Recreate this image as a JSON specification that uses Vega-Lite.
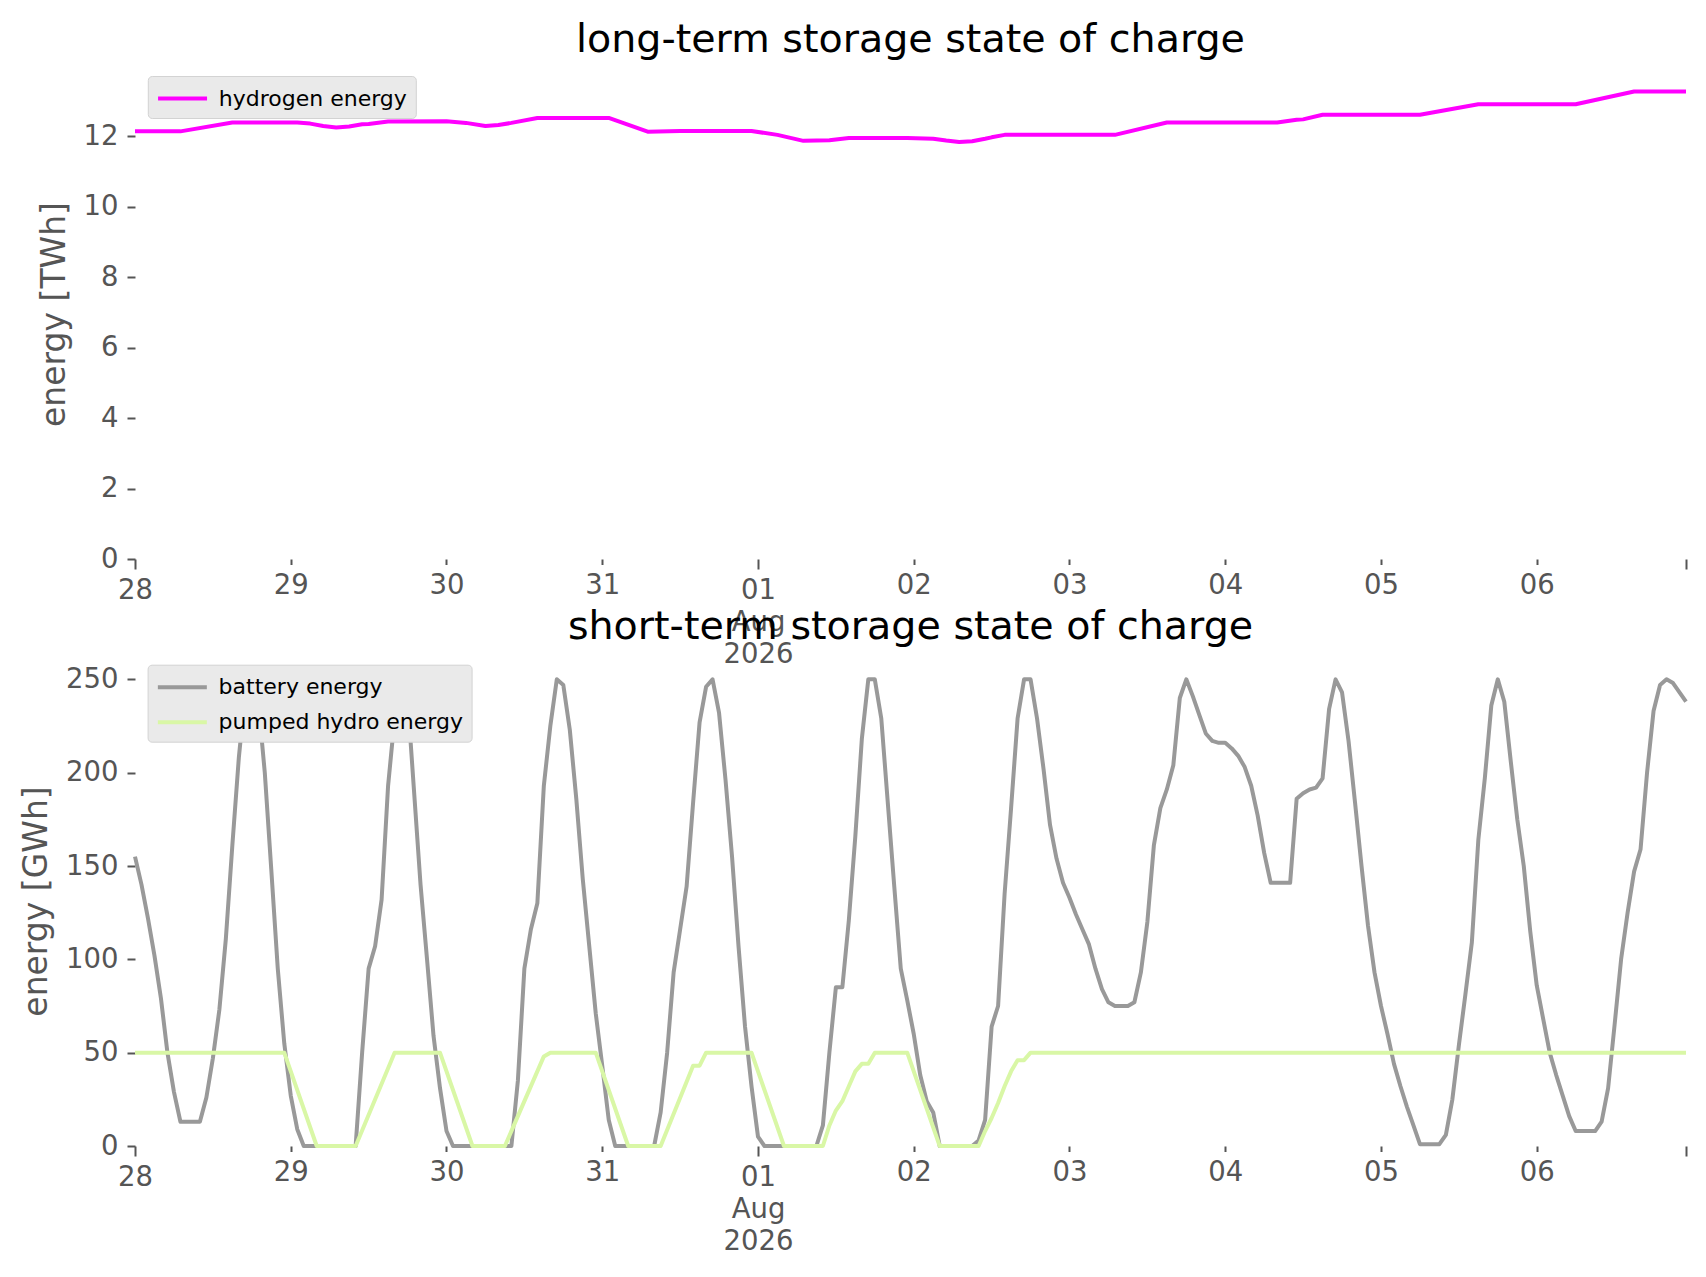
{
  "$schema": "https://vega.github.io/schema/vega-lite/v6.json",
  "background": "white",
  "padding": {"left": 20, "top": 20, "right": 10, "bottom": 10},
  "bounds": "flush",
  "spacing": 97,
  "resolve": {"scale": {"color": "independent"}, "legend": {"color": "independent"}},
  "config": {
    "font": "DejaVu Sans",
    "view": {"stroke": null},
    "axis": {
      "domain": false, "grid": false,
      "labelFont": "DejaVu Sans", "labelFontSize": 27.5, "labelColor": "#555555",
      "tickColor": "#555555", "tickWidth": 2,
      "titleFont": "DejaVu Sans", "titleFontSize": 33, "titleColor": "#555555", "titleFontWeight": "normal"
    },
    "title": {"font": "DejaVu Sans", "fontSize": 39.6, "fontWeight": "normal", "color": "black", "anchor": "middle", "frame": "group", "baseline": "alphabetic", "offset": 8.4},
    "legend": {
      "orient": "none", "title": null,
      "fillColor": "#EAEAEA", "strokeColor": "#D3D3D3", "cornerRadius": 4, "padding": 8,
      "symbolType": "M-1,0H3", "symbolSize": 600, "symbolStrokeWidth": 4,
      "labelFont": "DejaVu Sans", "labelFontSize": 22, "labelColor": "black", "labelOffset": 34, "labelLimit": 500,
      "rowPadding": 9
    }
  },
  "vconcat": [
    {
      "width": 1551, "height": 490,
      "title": "long-term storage state of charge",
      "data": {"values": [
        {"t": "2026-07-28T00:00", "s": "hydrogen energy", "v": 12.14},
        {"t": "2026-07-28T07:00", "s": "hydrogen energy", "v": 12.14},
        {"t": "2026-07-28T15:00", "s": "hydrogen energy", "v": 12.39},
        {"t": "2026-07-29T01:00", "s": "hydrogen energy", "v": 12.39},
        {"t": "2026-07-29T03:00", "s": "hydrogen energy", "v": 12.36},
        {"t": "2026-07-29T05:00", "s": "hydrogen energy", "v": 12.29},
        {"t": "2026-07-29T07:00", "s": "hydrogen energy", "v": 12.25},
        {"t": "2026-07-29T09:00", "s": "hydrogen energy", "v": 12.28},
        {"t": "2026-07-29T11:00", "s": "hydrogen energy", "v": 12.34},
        {"t": "2026-07-29T12:00", "s": "hydrogen energy", "v": 12.35},
        {"t": "2026-07-29T15:00", "s": "hydrogen energy", "v": 12.42},
        {"t": "2026-07-30T00:00", "s": "hydrogen energy", "v": 12.43},
        {"t": "2026-07-30T03:00", "s": "hydrogen energy", "v": 12.38},
        {"t": "2026-07-30T06:00", "s": "hydrogen energy", "v": 12.29},
        {"t": "2026-07-30T08:00", "s": "hydrogen energy", "v": 12.32},
        {"t": "2026-07-30T10:00", "s": "hydrogen energy", "v": 12.38},
        {"t": "2026-07-30T14:00", "s": "hydrogen energy", "v": 12.52},
        {"t": "2026-07-31T01:00", "s": "hydrogen energy", "v": 12.52},
        {"t": "2026-07-31T07:00", "s": "hydrogen energy", "v": 12.13},
        {"t": "2026-07-31T12:00", "s": "hydrogen energy", "v": 12.15},
        {"t": "2026-07-31T23:00", "s": "hydrogen energy", "v": 12.15},
        {"t": "2026-08-01T03:00", "s": "hydrogen energy", "v": 12.04},
        {"t": "2026-08-01T07:00", "s": "hydrogen energy", "v": 11.87},
        {"t": "2026-08-01T09:00", "s": "hydrogen energy", "v": 11.88},
        {"t": "2026-08-01T11:00", "s": "hydrogen energy", "v": 11.89},
        {"t": "2026-08-01T14:00", "s": "hydrogen energy", "v": 11.95},
        {"t": "2026-08-01T23:00", "s": "hydrogen energy", "v": 11.95},
        {"t": "2026-08-02T03:00", "s": "hydrogen energy", "v": 11.93},
        {"t": "2026-08-02T05:00", "s": "hydrogen energy", "v": 11.88},
        {"t": "2026-08-02T07:00", "s": "hydrogen energy", "v": 11.84},
        {"t": "2026-08-02T09:00", "s": "hydrogen energy", "v": 11.86},
        {"t": "2026-08-02T11:00", "s": "hydrogen energy", "v": 11.93},
        {"t": "2026-08-02T12:00", "s": "hydrogen energy", "v": 11.97},
        {"t": "2026-08-02T14:00", "s": "hydrogen energy", "v": 12.04},
        {"t": "2026-08-03T07:00", "s": "hydrogen energy", "v": 12.04},
        {"t": "2026-08-03T15:00", "s": "hydrogen energy", "v": 12.39},
        {"t": "2026-08-04T08:00", "s": "hydrogen energy", "v": 12.39},
        {"t": "2026-08-04T11:00", "s": "hydrogen energy", "v": 12.47},
        {"t": "2026-08-04T12:00", "s": "hydrogen energy", "v": 12.48},
        {"t": "2026-08-04T15:00", "s": "hydrogen energy", "v": 12.61},
        {"t": "2026-08-05T06:00", "s": "hydrogen energy", "v": 12.61},
        {"t": "2026-08-05T15:00", "s": "hydrogen energy", "v": 12.91},
        {"t": "2026-08-06T06:00", "s": "hydrogen energy", "v": 12.91},
        {"t": "2026-08-06T15:00", "s": "hydrogen energy", "v": 13.27},
        {"t": "2026-08-06T23:00", "s": "hydrogen energy", "v": 13.27}
      ]},
      "mark": {"type": "line", "strokeWidth": 4, "strokeJoin": "round"},
      "encoding": {
        "x": {
          "field": "t", "type": "temporal", "title": null,
          "scale": {"domain": [{"year": 2026, "month": 7, "date": 28}, {"year": 2026, "month": 8, "date": 6, "hours": 23}]},
          "axis": {
            "values": [
              {"year": 2026, "month": 7, "date": 28}, {"year": 2026, "month": 7, "date": 29}, {"year": 2026, "month": 7, "date": 30}, {"year": 2026, "month": 7, "date": 31},
              {"year": 2026, "month": 8, "date": 1}, {"year": 2026, "month": 8, "date": 2}, {"year": 2026, "month": 8, "date": 3}, {"year": 2026, "month": 8, "date": 4},
              {"year": 2026, "month": 8, "date": 5}, {"year": 2026, "month": 8, "date": 6}, {"year": 2026, "month": 8, "date": 6, "hours": 23}
            ],
            "labelExpr": "hours(datum.value) == 23 ? '' : (date(datum.value) == 1 ? [timeFormat(datum.value, '%d'), timeFormat(datum.value, '%b'), timeFormat(datum.value, '%Y')] : timeFormat(datum.value, '%d'))",
            "tickSize": {"condition": {"test": "date(datum.value) == 1 || date(datum.value) == 28 || hours(datum.value) == 23", "value": 10}, "value": 5.5},
            "labelPadding": 7, "labelOverlap": false, "labelFlush": false, "labelLineHeight": 32, "labelBaseline": "top"
          }
        },
        "y": {
          "field": "v", "type": "quantitative",
          "scale": {"domain": [0, 13.91], "nice": false, "zero": false},
          "axis": {"values": [0, 2, 4, 6, 8, 10, 12], "title": "energy [TWh]", "tickSize": 8, "labelPadding": 9, "titlePadding": 12, "labelFlush": false}
        },
        "color": {
          "field": "s", "type": "nominal",
          "scale": {"domain": ["hydrogen energy"], "range": ["#ff00ff"]},
          "legend": {"legendX": 12.8, "legendY": 7}
        }
      }
    },
    {
      "width": 1551, "height": 490,
      "title": "short-term storage state of charge",
      "data": {"values": [
        {"t":"2026-07-28T00:00","s":"battery energy","v":155},{"t":"2026-07-28T01:00","s":"battery energy","v":140},{"t":"2026-07-28T02:00","s":"battery energy","v":122},{"t":"2026-07-28T03:00","s":"battery energy","v":102},{"t":"2026-07-28T04:00","s":"battery energy","v":79},{"t":"2026-07-28T05:00","s":"battery energy","v":50},{"t":"2026-07-28T06:00","s":"battery energy","v":29},{"t":"2026-07-28T07:00","s":"battery energy","v":13},{"t":"2026-07-28T08:00","s":"battery energy","v":13},{"t":"2026-07-28T09:00","s":"battery energy","v":13},{"t":"2026-07-28T10:00","s":"battery energy","v":13},{"t":"2026-07-28T11:00","s":"battery energy","v":26},{"t":"2026-07-28T12:00","s":"battery energy","v":47},{"t":"2026-07-28T13:00","s":"battery energy","v":73},{"t":"2026-07-28T14:00","s":"battery energy","v":111},{"t":"2026-07-28T15:00","s":"battery energy","v":161},{"t":"2026-07-28T16:00","s":"battery energy","v":208},{"t":"2026-07-28T17:00","s":"battery energy","v":243},{"t":"2026-07-28T18:00","s":"battery energy","v":250},{"t":"2026-07-28T19:00","s":"battery energy","v":238},{"t":"2026-07-28T20:00","s":"battery energy","v":200},{"t":"2026-07-28T21:00","s":"battery energy","v":148},{"t":"2026-07-28T22:00","s":"battery energy","v":95},{"t":"2026-07-28T23:00","s":"battery energy","v":55},
        {"t":"2026-07-29T00:00","s":"battery energy","v":27},{"t":"2026-07-29T01:00","s":"battery energy","v":9},{"t":"2026-07-29T02:00","s":"battery energy","v":0},{"t":"2026-07-29T03:00","s":"battery energy","v":0},{"t":"2026-07-29T04:00","s":"battery energy","v":0},{"t":"2026-07-29T05:00","s":"battery energy","v":0},{"t":"2026-07-29T06:00","s":"battery energy","v":0},{"t":"2026-07-29T07:00","s":"battery energy","v":0},{"t":"2026-07-29T08:00","s":"battery energy","v":0},{"t":"2026-07-29T09:00","s":"battery energy","v":0},{"t":"2026-07-29T10:00","s":"battery energy","v":0},{"t":"2026-07-29T11:00","s":"battery energy","v":50},{"t":"2026-07-29T12:00","s":"battery energy","v":95},{"t":"2026-07-29T13:00","s":"battery energy","v":107},{"t":"2026-07-29T14:00","s":"battery energy","v":132},{"t":"2026-07-29T15:00","s":"battery energy","v":193},{"t":"2026-07-29T16:00","s":"battery energy","v":229},{"t":"2026-07-29T17:00","s":"battery energy","v":250},{"t":"2026-07-29T18:00","s":"battery energy","v":240},{"t":"2026-07-29T19:00","s":"battery energy","v":190},{"t":"2026-07-29T20:00","s":"battery energy","v":140},{"t":"2026-07-29T21:00","s":"battery energy","v":100},{"t":"2026-07-29T22:00","s":"battery energy","v":59},{"t":"2026-07-29T23:00","s":"battery energy","v":31},
        {"t":"2026-07-30T00:00","s":"battery energy","v":8},{"t":"2026-07-30T01:00","s":"battery energy","v":0},{"t":"2026-07-30T02:00","s":"battery energy","v":0},{"t":"2026-07-30T03:00","s":"battery energy","v":0},{"t":"2026-07-30T04:00","s":"battery energy","v":0},{"t":"2026-07-30T05:00","s":"battery energy","v":0},{"t":"2026-07-30T06:00","s":"battery energy","v":0},{"t":"2026-07-30T07:00","s":"battery energy","v":0},{"t":"2026-07-30T08:00","s":"battery energy","v":0},{"t":"2026-07-30T09:00","s":"battery energy","v":0},{"t":"2026-07-30T10:00","s":"battery energy","v":0},{"t":"2026-07-30T11:00","s":"battery energy","v":35},{"t":"2026-07-30T12:00","s":"battery energy","v":95},{"t":"2026-07-30T13:00","s":"battery energy","v":116},{"t":"2026-07-30T14:00","s":"battery energy","v":130},{"t":"2026-07-30T15:00","s":"battery energy","v":193},{"t":"2026-07-30T16:00","s":"battery energy","v":225},{"t":"2026-07-30T17:00","s":"battery energy","v":250},{"t":"2026-07-30T18:00","s":"battery energy","v":247},{"t":"2026-07-30T19:00","s":"battery energy","v":223},{"t":"2026-07-30T20:00","s":"battery energy","v":186},{"t":"2026-07-30T21:00","s":"battery energy","v":143},{"t":"2026-07-30T22:00","s":"battery energy","v":107},{"t":"2026-07-30T23:00","s":"battery energy","v":71},
        {"t":"2026-07-31T00:00","s":"battery energy","v":43},{"t":"2026-07-31T01:00","s":"battery energy","v":14},{"t":"2026-07-31T02:00","s":"battery energy","v":0},{"t":"2026-07-31T03:00","s":"battery energy","v":0},{"t":"2026-07-31T04:00","s":"battery energy","v":0},{"t":"2026-07-31T05:00","s":"battery energy","v":0},{"t":"2026-07-31T06:00","s":"battery energy","v":0},{"t":"2026-07-31T07:00","s":"battery energy","v":0},{"t":"2026-07-31T08:00","s":"battery energy","v":0},{"t":"2026-07-31T09:00","s":"battery energy","v":18},{"t":"2026-07-31T10:00","s":"battery energy","v":50},{"t":"2026-07-31T11:00","s":"battery energy","v":93},{"t":"2026-07-31T12:00","s":"battery energy","v":116},{"t":"2026-07-31T13:00","s":"battery energy","v":139},{"t":"2026-07-31T14:00","s":"battery energy","v":184},{"t":"2026-07-31T15:00","s":"battery energy","v":227},{"t":"2026-07-31T16:00","s":"battery energy","v":246},{"t":"2026-07-31T17:00","s":"battery energy","v":250},{"t":"2026-07-31T18:00","s":"battery energy","v":232},{"t":"2026-07-31T19:00","s":"battery energy","v":196},{"t":"2026-07-31T20:00","s":"battery energy","v":155},{"t":"2026-07-31T21:00","s":"battery energy","v":107},{"t":"2026-07-31T22:00","s":"battery energy","v":64},{"t":"2026-07-31T23:00","s":"battery energy","v":32},
        {"t":"2026-08-01T00:00","s":"battery energy","v":5},{"t":"2026-08-01T01:00","s":"battery energy","v":0},{"t":"2026-08-01T02:00","s":"battery energy","v":0},{"t":"2026-08-01T03:00","s":"battery energy","v":0},{"t":"2026-08-01T04:00","s":"battery energy","v":0},{"t":"2026-08-01T05:00","s":"battery energy","v":0},{"t":"2026-08-01T06:00","s":"battery energy","v":0},{"t":"2026-08-01T07:00","s":"battery energy","v":0},{"t":"2026-08-01T08:00","s":"battery energy","v":0},{"t":"2026-08-01T09:00","s":"battery energy","v":0},{"t":"2026-08-01T10:00","s":"battery energy","v":11},{"t":"2026-08-01T11:00","s":"battery energy","v":50},{"t":"2026-08-01T12:00","s":"battery energy","v":85},{"t":"2026-08-01T13:00","s":"battery energy","v":85},{"t":"2026-08-01T14:00","s":"battery energy","v":121},{"t":"2026-08-01T15:00","s":"battery energy","v":166},{"t":"2026-08-01T16:00","s":"battery energy","v":218},{"t":"2026-08-01T17:00","s":"battery energy","v":250},{"t":"2026-08-01T18:00","s":"battery energy","v":250},{"t":"2026-08-01T19:00","s":"battery energy","v":229},{"t":"2026-08-01T20:00","s":"battery energy","v":184},{"t":"2026-08-01T21:00","s":"battery energy","v":139},{"t":"2026-08-01T22:00","s":"battery energy","v":95},{"t":"2026-08-01T23:00","s":"battery energy","v":78},
        {"t":"2026-08-02T00:00","s":"battery energy","v":60},{"t":"2026-08-02T01:00","s":"battery energy","v":38},{"t":"2026-08-02T02:00","s":"battery energy","v":24},{"t":"2026-08-02T03:00","s":"battery energy","v":18},{"t":"2026-08-02T04:00","s":"battery energy","v":0},{"t":"2026-08-02T05:00","s":"battery energy","v":0},{"t":"2026-08-02T06:00","s":"battery energy","v":0},{"t":"2026-08-02T07:00","s":"battery energy","v":0},{"t":"2026-08-02T08:00","s":"battery energy","v":0},{"t":"2026-08-02T09:00","s":"battery energy","v":0},{"t":"2026-08-02T10:00","s":"battery energy","v":3},{"t":"2026-08-02T11:00","s":"battery energy","v":14},{"t":"2026-08-02T12:00","s":"battery energy","v":64},{"t":"2026-08-02T13:00","s":"battery energy","v":75},{"t":"2026-08-02T14:00","s":"battery energy","v":135},{"t":"2026-08-02T15:00","s":"battery energy","v":181},{"t":"2026-08-02T16:00","s":"battery energy","v":229},{"t":"2026-08-02T17:00","s":"battery energy","v":250},{"t":"2026-08-02T18:00","s":"battery energy","v":250},{"t":"2026-08-02T19:00","s":"battery energy","v":229},{"t":"2026-08-02T20:00","s":"battery energy","v":202},{"t":"2026-08-02T21:00","s":"battery energy","v":172},{"t":"2026-08-02T22:00","s":"battery energy","v":154},{"t":"2026-08-02T23:00","s":"battery energy","v":141},
        {"t":"2026-08-03T00:00","s":"battery energy","v":133},{"t":"2026-08-03T01:00","s":"battery energy","v":124},{"t":"2026-08-03T02:00","s":"battery energy","v":116},{"t":"2026-08-03T03:00","s":"battery energy","v":108},{"t":"2026-08-03T04:00","s":"battery energy","v":95},{"t":"2026-08-03T05:00","s":"battery energy","v":84},{"t":"2026-08-03T06:00","s":"battery energy","v":77},{"t":"2026-08-03T07:00","s":"battery energy","v":75},{"t":"2026-08-03T08:00","s":"battery energy","v":75},{"t":"2026-08-03T09:00","s":"battery energy","v":75},{"t":"2026-08-03T10:00","s":"battery energy","v":77},{"t":"2026-08-03T11:00","s":"battery energy","v":93},{"t":"2026-08-03T12:00","s":"battery energy","v":120},{"t":"2026-08-03T13:00","s":"battery energy","v":161},{"t":"2026-08-03T14:00","s":"battery energy","v":181},{"t":"2026-08-03T15:00","s":"battery energy","v":191},{"t":"2026-08-03T16:00","s":"battery energy","v":204},{"t":"2026-08-03T17:00","s":"battery energy","v":240},{"t":"2026-08-03T18:00","s":"battery energy","v":250},{"t":"2026-08-03T19:00","s":"battery energy","v":241},{"t":"2026-08-03T20:00","s":"battery energy","v":231},{"t":"2026-08-03T21:00","s":"battery energy","v":221},{"t":"2026-08-03T22:00","s":"battery energy","v":217},{"t":"2026-08-03T23:00","s":"battery energy","v":216},
        {"t":"2026-08-04T00:00","s":"battery energy","v":216},{"t":"2026-08-04T01:00","s":"battery energy","v":213},{"t":"2026-08-04T02:00","s":"battery energy","v":209},{"t":"2026-08-04T03:00","s":"battery energy","v":203},{"t":"2026-08-04T04:00","s":"battery energy","v":193},{"t":"2026-08-04T05:00","s":"battery energy","v":177},{"t":"2026-08-04T06:00","s":"battery energy","v":157},{"t":"2026-08-04T07:00","s":"battery energy","v":141},{"t":"2026-08-04T08:00","s":"battery energy","v":141},{"t":"2026-08-04T09:00","s":"battery energy","v":141},{"t":"2026-08-04T10:00","s":"battery energy","v":141},{"t":"2026-08-04T11:00","s":"battery energy","v":186},{"t":"2026-08-04T12:00","s":"battery energy","v":189},{"t":"2026-08-04T13:00","s":"battery energy","v":191},{"t":"2026-08-04T14:00","s":"battery energy","v":192},{"t":"2026-08-04T15:00","s":"battery energy","v":197},{"t":"2026-08-04T16:00","s":"battery energy","v":234},{"t":"2026-08-04T17:00","s":"battery energy","v":250},{"t":"2026-08-04T18:00","s":"battery energy","v":243},{"t":"2026-08-04T19:00","s":"battery energy","v":217},{"t":"2026-08-04T20:00","s":"battery energy","v":184},{"t":"2026-08-04T21:00","s":"battery energy","v":150},{"t":"2026-08-04T22:00","s":"battery energy","v":118},{"t":"2026-08-04T23:00","s":"battery energy","v":93},
        {"t":"2026-08-05T00:00","s":"battery energy","v":75},{"t":"2026-08-05T01:00","s":"battery energy","v":60},{"t":"2026-08-05T02:00","s":"battery energy","v":44},{"t":"2026-08-05T03:00","s":"battery energy","v":32},{"t":"2026-08-05T04:00","s":"battery energy","v":21},{"t":"2026-08-05T05:00","s":"battery energy","v":11},{"t":"2026-08-05T06:00","s":"battery energy","v":1},{"t":"2026-08-05T07:00","s":"battery energy","v":1},{"t":"2026-08-05T08:00","s":"battery energy","v":1},{"t":"2026-08-05T09:00","s":"battery energy","v":1},{"t":"2026-08-05T10:00","s":"battery energy","v":6},{"t":"2026-08-05T11:00","s":"battery energy","v":25},{"t":"2026-08-05T12:00","s":"battery energy","v":54},{"t":"2026-08-05T13:00","s":"battery energy","v":81},{"t":"2026-08-05T14:00","s":"battery energy","v":109},{"t":"2026-08-05T15:00","s":"battery energy","v":164},{"t":"2026-08-05T16:00","s":"battery energy","v":197},{"t":"2026-08-05T17:00","s":"battery energy","v":236},{"t":"2026-08-05T18:00","s":"battery energy","v":250},{"t":"2026-08-05T19:00","s":"battery energy","v":238},{"t":"2026-08-05T20:00","s":"battery energy","v":206},{"t":"2026-08-05T21:00","s":"battery energy","v":175},{"t":"2026-08-05T22:00","s":"battery energy","v":150},{"t":"2026-08-05T23:00","s":"battery energy","v":115},
        {"t":"2026-08-06T00:00","s":"battery energy","v":86},{"t":"2026-08-06T01:00","s":"battery energy","v":68},{"t":"2026-08-06T02:00","s":"battery energy","v":50},{"t":"2026-08-06T03:00","s":"battery energy","v":38},{"t":"2026-08-06T04:00","s":"battery energy","v":27},{"t":"2026-08-06T05:00","s":"battery energy","v":16},{"t":"2026-08-06T06:00","s":"battery energy","v":8},{"t":"2026-08-06T07:00","s":"battery energy","v":8},{"t":"2026-08-06T08:00","s":"battery energy","v":8},{"t":"2026-08-06T09:00","s":"battery energy","v":8},{"t":"2026-08-06T10:00","s":"battery energy","v":13},{"t":"2026-08-06T11:00","s":"battery energy","v":31},{"t":"2026-08-06T12:00","s":"battery energy","v":65},{"t":"2026-08-06T13:00","s":"battery energy","v":100},{"t":"2026-08-06T14:00","s":"battery energy","v":125},{"t":"2026-08-06T15:00","s":"battery energy","v":147},{"t":"2026-08-06T16:00","s":"battery energy","v":159},{"t":"2026-08-06T17:00","s":"battery energy","v":200},{"t":"2026-08-06T18:00","s":"battery energy","v":233},{"t":"2026-08-06T19:00","s":"battery energy","v":247},{"t":"2026-08-06T20:00","s":"battery energy","v":250},{"t":"2026-08-06T21:00","s":"battery energy","v":248},{"t":"2026-08-06T22:00","s":"battery energy","v":243},{"t":"2026-08-06T23:00","s":"battery energy","v":238},
        {"t":"2026-07-28T00:00","s":"pumped hydro energy","v":50},{"t":"2026-07-28T23:00","s":"pumped hydro energy","v":50},{"t":"2026-07-29T04:00","s":"pumped hydro energy","v":0},{"t":"2026-07-29T10:00","s":"pumped hydro energy","v":0},{"t":"2026-07-29T16:00","s":"pumped hydro energy","v":50},{"t":"2026-07-29T23:00","s":"pumped hydro energy","v":50},
        {"t":"2026-07-30T04:00","s":"pumped hydro energy","v":0},{"t":"2026-07-30T09:00","s":"pumped hydro energy","v":0},{"t":"2026-07-30T15:00","s":"pumped hydro energy","v":48},{"t":"2026-07-30T16:00","s":"pumped hydro energy","v":50},{"t":"2026-07-30T23:00","s":"pumped hydro energy","v":50},
        {"t":"2026-07-31T04:00","s":"pumped hydro energy","v":0},{"t":"2026-07-31T09:00","s":"pumped hydro energy","v":0},{"t":"2026-07-31T14:00","s":"pumped hydro energy","v":43},{"t":"2026-07-31T15:00","s":"pumped hydro energy","v":43},{"t":"2026-07-31T16:00","s":"pumped hydro energy","v":50},{"t":"2026-07-31T23:00","s":"pumped hydro energy","v":50},
        {"t":"2026-08-01T04:00","s":"pumped hydro energy","v":0},{"t":"2026-08-01T10:00","s":"pumped hydro energy","v":0},{"t":"2026-08-01T11:00","s":"pumped hydro energy","v":11},{"t":"2026-08-01T12:00","s":"pumped hydro energy","v":19},{"t":"2026-08-01T13:00","s":"pumped hydro energy","v":24},{"t":"2026-08-01T14:00","s":"pumped hydro energy","v":32},{"t":"2026-08-01T15:00","s":"pumped hydro energy","v":40},{"t":"2026-08-01T16:00","s":"pumped hydro energy","v":44},{"t":"2026-08-01T17:00","s":"pumped hydro energy","v":44},{"t":"2026-08-01T18:00","s":"pumped hydro energy","v":50},{"t":"2026-08-01T23:00","s":"pumped hydro energy","v":50},
        {"t":"2026-08-02T04:00","s":"pumped hydro energy","v":0},{"t":"2026-08-02T10:00","s":"pumped hydro energy","v":0},{"t":"2026-08-02T11:00","s":"pumped hydro energy","v":8},{"t":"2026-08-02T12:00","s":"pumped hydro energy","v":15},{"t":"2026-08-02T13:00","s":"pumped hydro energy","v":23},{"t":"2026-08-02T14:00","s":"pumped hydro energy","v":32},{"t":"2026-08-02T15:00","s":"pumped hydro energy","v":40},{"t":"2026-08-02T16:00","s":"pumped hydro energy","v":46},{"t":"2026-08-02T17:00","s":"pumped hydro energy","v":46},{"t":"2026-08-02T18:00","s":"pumped hydro energy","v":50},{"t":"2026-08-06T23:00","s":"pumped hydro energy","v":50}
      ]},
      "mark": {"type": "line", "strokeWidth": 4, "strokeJoin": "round"},
      "encoding": {
        "x": {
          "field": "t", "type": "temporal", "title": null,
          "scale": {"domain": [{"year": 2026, "month": 7, "date": 28}, {"year": 2026, "month": 8, "date": 6, "hours": 23}]},
          "axis": {
            "values": [
              {"year": 2026, "month": 7, "date": 28}, {"year": 2026, "month": 7, "date": 29}, {"year": 2026, "month": 7, "date": 30}, {"year": 2026, "month": 7, "date": 31},
              {"year": 2026, "month": 8, "date": 1}, {"year": 2026, "month": 8, "date": 2}, {"year": 2026, "month": 8, "date": 3}, {"year": 2026, "month": 8, "date": 4},
              {"year": 2026, "month": 8, "date": 5}, {"year": 2026, "month": 8, "date": 6}, {"year": 2026, "month": 8, "date": 6, "hours": 23}
            ],
            "labelExpr": "hours(datum.value) == 23 ? '' : (date(datum.value) == 1 ? [timeFormat(datum.value, '%d'), timeFormat(datum.value, '%b'), timeFormat(datum.value, '%Y')] : timeFormat(datum.value, '%d'))",
            "tickSize": {"condition": {"test": "date(datum.value) == 1 || date(datum.value) == 28 || hours(datum.value) == 23", "value": 10}, "value": 5.5},
            "labelPadding": 7, "labelOverlap": false, "labelFlush": false, "labelLineHeight": 32, "labelBaseline": "top"
          }
        },
        "y": {
          "field": "v", "type": "quantitative",
          "scale": {"domain": [0, 262.5], "nice": false, "zero": false},
          "axis": {"values": [0, 50, 100, 150, 200, 250], "title": "energy [GWh]", "tickSize": 8, "labelPadding": 9, "titlePadding": 12, "labelFlush": false}
        },
        "color": {
          "field": "s", "type": "nominal",
          "scale": {"domain": ["battery energy", "pumped hydro energy"], "range": ["#999999", "#d9f7a6"]},
          "legend": {"legendX": 12.6, "legendY": 8.7}
        }
      }
    }
  ]
}
